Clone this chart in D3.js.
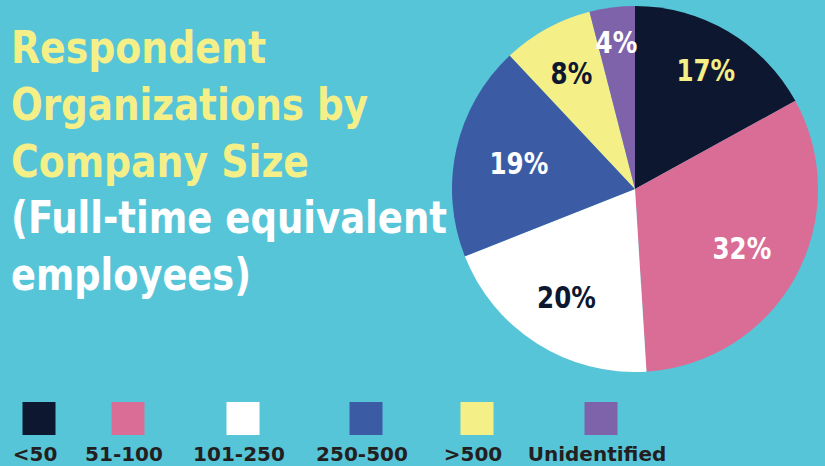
<!DOCTYPE html>
<html>
<head>
<meta charset="utf-8">
<script src="https://cdn.jsdelivr.net/npm/d3@7"></script>
<style>
  html, body { margin: 0; padding: 0; background: #57c5d8; }
  svg { display: block; }
</style>
</head>
<body>
<svg width="825" height="466"></svg>
<script>
var width = 825, height = 466;

var categories = ['<50', '51-100', '101-250', '250-500', '>500', 'Unidentified'];
var shares = [17, 32, 20, 19, 8, 4];
var sliceColors = ['#0d1830', '#d96d95', '#ffffff', '#3c5ba5', '#f5ef88', '#7f63aa'];
var labelColors = ['#f5ef88', '#ffffff', '#0d1830', '#ffffff', '#0d1830', '#ffffff'];
var titleLines = ['Respondent', 'Organizations by', 'Company Size', '(Full-time equivalent', 'employees)'];
var titleColors = ['#f5ef88', '#f5ef88', '#f5ef88', '#ffffff', '#ffffff'];

// layout only
var cx = 635, cy = 189, radius = 183;
var labelR = [139, 122, 128, 119, 132, 148];
var legendX = [39, 128, 243, 366, 477, 601];
var titleWidths = [255, 357, 298, 436, 240];

var svg = d3.select('svg');

svg.append('rect')
  .attr('width', width)
  .attr('height', height)
  .attr('fill', '#57c5d8');

// title
svg.append('g')
  .selectAll('text')
  .data(titleLines)
  .enter()
  .append('text')
  .attr('x', 11)
  .attr('y', function(d, i) { return 63 + i * 56.8; })
  .attr('textLength', function(d, i) { return titleWidths[i]; })
  .attr('lengthAdjust', 'spacingAndGlyphs')
  .attr('fill', function(d, i) { return titleColors[i]; })
  .style('font-family', '"DejaVu Sans Condensed", "DejaVu Sans", sans-serif')
  .style('font-weight', 'bold')
  .style('font-size', '45px')
  .text(function(d) { return d; });

// pie
var pie = d3.pie().sort(null).value(function(d) { return d; });
var arcs = pie(shares);
var arc = d3.arc().innerRadius(0).outerRadius(radius);

var g = svg.append('g').attr('transform', 'translate(' + cx + ',' + cy + ')');

g.selectAll('path')
  .data(arcs)
  .enter()
  .append('path')
  .attr('d', arc)
  .attr('fill', function(d, i) { return sliceColors[i]; });

g.selectAll('text')
  .data(arcs)
  .enter()
  .append('text')
  .attr('transform', function(d, i) {
    var c = d3.arc().innerRadius(labelR[i]).outerRadius(labelR[i]).centroid(d);
    return 'translate(' + c[0] + ',' + c[1] + ') scale(0.88,1)';
  })
  .attr('text-anchor', 'middle')
  .attr('dy', '0.36em')
  .attr('fill', function(d, i) { return labelColors[i]; })
  .style('font-family', '"DejaVu Sans Condensed", "DejaVu Sans", sans-serif')
  .style('font-weight', 'bold')
  .style('font-size', '31px')
  .text(function(d) { return d.data + '%'; });

// legend
var legend = svg.append('g')
  .selectAll('g')
  .data(categories)
  .enter()
  .append('g')
  .attr('transform', function(d, i) { return 'translate(' + legendX[i] + ',0)'; });

legend.append('rect')
  .attr('x', -16.5)
  .attr('y', 402)
  .attr('width', 33)
  .attr('height', 33)
  .attr('fill', function(d, i) { return sliceColors[i]; });

legend.append('text')
  .attr('x', -4)
  .attr('y', 461)
  .attr('text-anchor', 'middle')
  .attr('fill', '#231f20')
  .style('font-family', '"DejaVu Sans", Verdana, sans-serif')
  .style('font-weight', 'bold')
  .style('font-size', '20px')
  .text(function(d) { return d; });
</script>
</body>
</html>
